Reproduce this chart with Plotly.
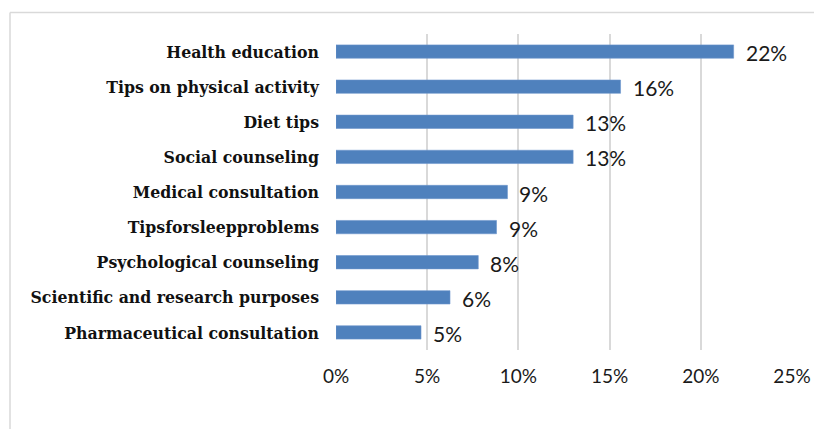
import plotly.graph_objects as go

categories = [
    "Health education",
    "Tips on physical activity",
    "Diet tips",
    "Social counseling",
    "Medical consultation",
    "Tipsforsleepproblems",
    "Psychological counseling",
    "Scientific and research purposes",
    "Pharmaceutical consultation",
]
values = [0.218, 0.156, 0.130, 0.130, 0.094, 0.088, 0.078, 0.0625, 0.0466]
value_labels = ["22%", "16%", "13%", "13%", "9%", "9%", "8%", "6%", "5%"]
tick_vals = [0, 0.05, 0.10, 0.15, 0.20, 0.25]
tick_text = ["0%", "5%", "10%", "15%", "20%", "25%"]

W, H = 814, 429
L, R, T, B = 336, 22, 34, 79
pw, ph = W - L - R, H - T - B

fig = go.Figure()
fig.add_trace(go.Bar(
    y=categories,
    x=values,
    orientation="h",
    marker=dict(color="#4F81BD", line=dict(color="#6B95CC", width=0.6)),
    hoverinfo="skip",
))

annotations = []
for c, v, t in zip(categories, values, value_labels):
    annotations.append(dict(
        x=v, y=c, xref="x", yref="y", text=t, showarrow=False,
        xanchor="left", yanchor="middle", xshift=10, yshift=-1,
        font=dict(family="Lato, Open Sans, sans-serif", size=21, color="#1a1a1a"),
    ))

# chart-area border (top and left edges visible)
x_left = (10 - L) / pw
x_right = (W - L) / pw
y_top = 1 + (T - 12.5) / ph
y_bot = -(H - T - ph) / ph
shapes = [
    dict(type="line", xref="paper", yref="paper", x0=x_left, x1=x_right, y0=y_top, y1=y_top,
         line=dict(color="#d9d9d9", width=1.5)),
    dict(type="line", xref="paper", yref="paper", x0=x_left, x1=x_left, y0=y_top, y1=y_bot,
         line=dict(color="#d9d9d9", width=1.5)),
]

fig.update_layout(
    width=W, height=H,
    margin=dict(l=L, r=R, t=T, b=B, autoexpand=False),
    paper_bgcolor="white", plot_bgcolor="white",
    bargap=0.62,
    showlegend=False,
    annotations=annotations,
    shapes=shapes,
    xaxis=dict(
        range=[0, 0.25], tickvals=tick_vals, ticktext=tick_text,
        showgrid=True, gridcolor="#d9d9d9", gridwidth=1.5,
        zeroline=False, showline=False, automargin=False,
        tickfont=dict(family="Lato, Open Sans, sans-serif", size=19, color="#1a1a1a"),
        ticklabelstandoff=13,
        fixedrange=True,
    ),
    yaxis=dict(
        categoryorder="array", categoryarray=categories[::-1],
        showgrid=False, zeroline=False, showline=False, automargin=False,
        tickfont=dict(family="DejaVu Serif Condensed, Liberation Serif, serif", size=17.5, color="#111111"),
        ticklabelstandoff=16,
        fixedrange=True,
    ),
)
fig.update_yaxes(tickfont_weight="bold")

fig.write_html("out.html")
